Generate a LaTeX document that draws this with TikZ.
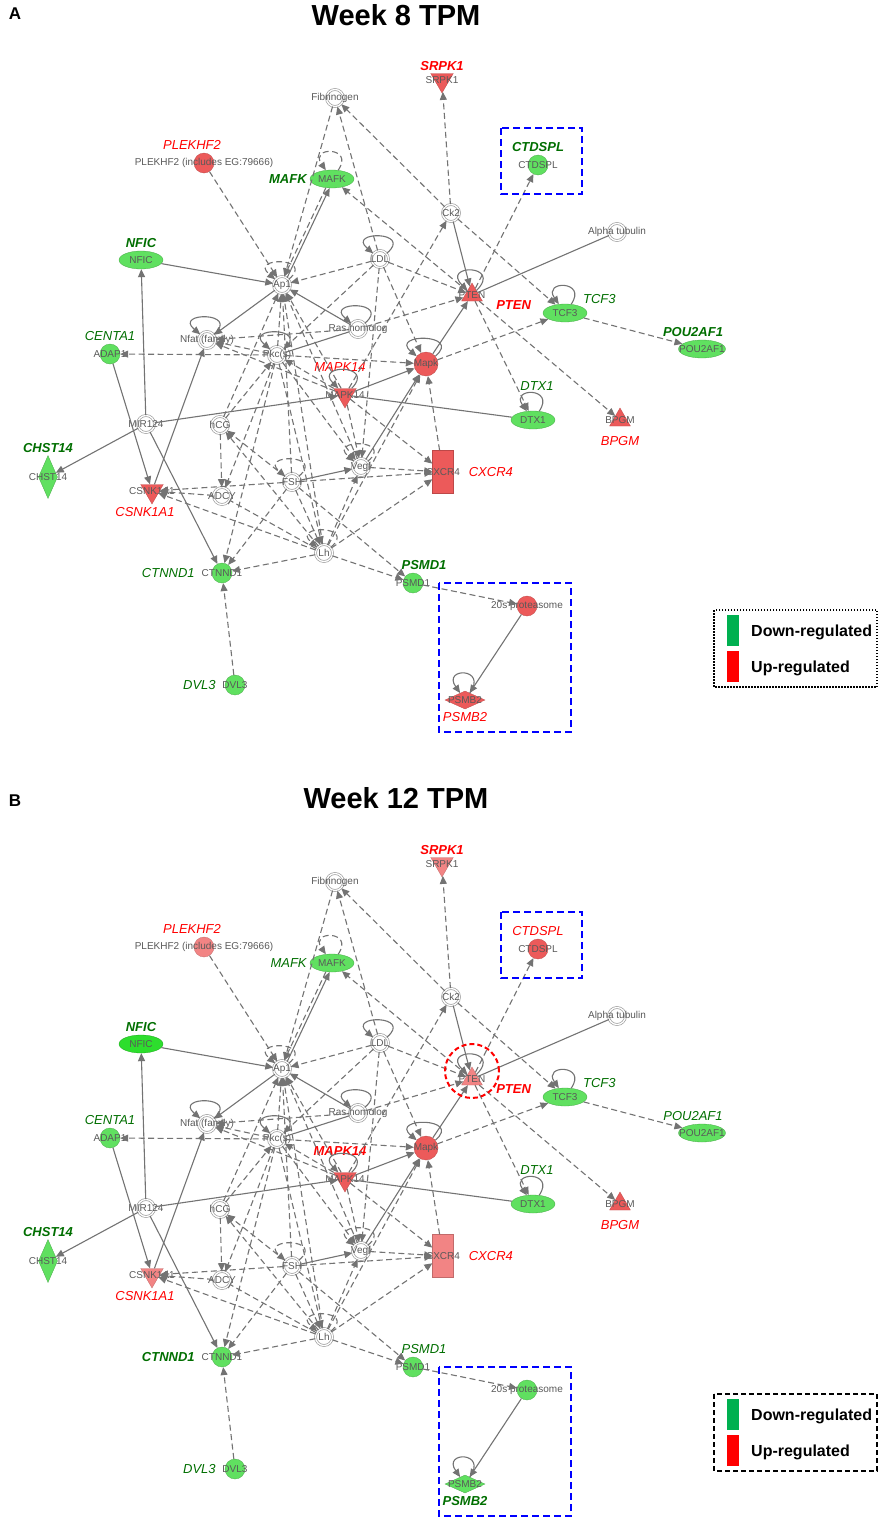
\documentclass[tikz,border=0pt]{standalone}
\usepackage{fontspec}
\setmainfont{Liberation Sans}
\usetikzlibrary{shapes.geometric,arrows.meta}

\definecolor{dngreen}{RGB}{96,224,96}
\definecolor{dngreenhi}{RGB}{45,222,45}
\definecolor{upred}{RGB}{236,90,90}
\definecolor{upredlt}{RGB}{242,132,132}
\definecolor{lblgreen}{RGB}{0,110,0}
\definecolor{lblred}{RGB}{255,0,0}
\definecolor{edgegray}{RGB}{115,115,115}
\definecolor{keygreen}{RGB}{0,176,80}

\tikzset{
	fam/.style={circle, draw=gray!75, double=white, double distance=1.3pt, line width=0.7pt, minimum size=17pt, inner sep=0pt},
	nm/.style={font=\fontsize{10}{11}\selectfont, text=black!65, inner sep=0pt},
	gcirc/.style={circle, minimum size=20pt, inner sep=0pt},
	gell/.style={ellipse, minimum width=44pt, minimum height=18pt, inner sep=0pt},
	triup/.style={regular polygon, regular polygon sides=3, minimum size=24pt, inner sep=0pt},
	tridn/.style={regular polygon, regular polygon sides=3, shape border rotate=180, minimum size=26pt, inner sep=0pt},
	dnf/.style={fill=dngreen, draw=dngreen!75!black, line width=0.3pt},
	dnhf/.style={fill=dngreenhi, draw=dngreenhi!75!black, line width=0.3pt},
	upf/.style={fill=upred, draw=upred!80!black, line width=0.3pt},
	uplf/.style={fill=upredlt, draw=upredlt!80!black, line width=0.3pt},
	lg/.style={font=\fontsize{13}{15}\selectfont\itshape, text=lblgreen, inner sep=1pt},
	lgb/.style={lg, font=\fontsize{13}{15}\selectfont\bfseries\itshape},
	lr/.style={lg, text=lblred},
	lrb/.style={lgb, text=lblred},
	act/.style={draw=edgegray, line width=1.1pt, -{Triangle[length=8pt,width=7pt]}},
	dact/.style={act, dash pattern=on 6pt off 3.5pt},
	lnk/.style={draw=edgegray, line width=1.1pt},
	dinh/.style={dact, -{Bar[width=8pt]}},
	bluebox/.style={draw=blue, line width=2.5pt, dash pattern=on 7pt off 4pt},
	keybar/.style={minimum width=12pt, minimum height=31pt, inner sep=0pt},
	keytxt/.style={font=\fontsize{16}{18}\selectfont\bfseries, anchor=west, inner sep=0pt},
	ttl/.style={font=\fontsize{29}{32}\selectfont\bfseries},
	plab/.style={font=\fontsize{17}{19}\selectfont\bfseries},
}

% one network panel, colours and label weights come from the scope
\newcommand{\drawnet}{%
	%gray families and complexes
	\node[fam, label={[nm]center:Fibrinogen}] (Fib) at (335,98) {};
	\node[fam, label={[nm]center:Ck2}] (Ck2) at (451,213) {};
	\node[fam, label={[nm]center:Alpha tubulin}] (Atub) at (617,232) {};
	\node[fam, label={[nm]center:LDL}] (LDL) at (380,259) {};
	\node[fam, label={[nm]center:Ap1}] (Ap1) at (282,285) {};
	\node[fam, label={[nm]center:Ras homolog}] (Ras) at (358,329) {};
	\node[fam, label={[nm]center:Nfat (family)}] (Nfat) at (207,340) {};
	\node[fam, label={[nm]center:Pkc(s)}] (Pkc) at (277,355) {};
	\node[fam, label={[nm]center:MIR124}] (MIR) at (146,424) {};
	\node[fam, label={[nm]center:hCG}] (hCG) at (220,425) {};
	\node[fam, label={[nm]center:FSH}] (FSH) at (292,482) {};
	\node[fam, label={[nm]center:Vegf}] (Vegf) at (361,467) {};
	\node[fam, label={[nm]center:ADCY}] (ADCY) at (222,496) {};
	\node[fam, label={[nm]center:Lh}] (Lh) at (324,553) {};
	
	%measured genes
	\node[gcirc, fPLEK, label={[nm]center:{PLEKHF2 (includes EG:79666)}}, label={[lr, xshift=-12pt]above:PLEKHF2}] (PLEK) at (204,163) {};
	\node[gell, dnf, label={[nm]center:MAFK}, label={[lMAFK]left:MAFK}] (MAFK) at (332,179) {};
	\node[gell, fNFIC, label={[nm]center:NFIC}, label={[lgb]above:NFIC}] (NFIC) at (141,260) {};
	\node[tridn, fSRPK, label={[nm]center:SRPK1}, label={[lrb]above:SRPK1}] (SRPK) at (442,80) {};
	\node[gcirc, fCTD, label={[nm]center:CTDSPL}, label={[lCTD]above:CTDSPL}] (CTD) at (538,165) {};
	\node[triup, fPTEN, label={[nm]center:PTEN}, label={[lrb, xshift=14pt, yshift=-10pt]right:PTEN}] (PTEN) at (472,295) {};
	\node[gell, dnf, label={[nm]center:TCF3}, label={[lg, xshift=7pt, yshift=-2pt]above right:TCF3}] (TCF3) at (565,313) {};
	\node[gell, dnf, minimum width=47pt, label={[nm]center:POU2AF1}, label={[lPOU, xshift=-9pt]above:POU2AF1}] (POU) at (702,349) {};
	\node[gcirc, upf, minimum size=24pt, label={[nm]center:Mapk}] (Mapk) at (426,364) {};
	\node[tridn, upf, label={[nm]center:MAPK14}, label={[lMAPK, xshift=-5pt, yshift=14pt]above:MAPK14}] (MAPK14) at (345,395) {};
	\node[gell, dnf, label={[nm]center:DTX1}, label={[lg, xshift=4pt, yshift=17pt]above:DTX1}] (DTX1) at (533,420) {};
	\node[triup, upf, label={[nm]center:BPGM}, label={[lr, yshift=-7pt]below:BPGM}] (BPGM) at (620,420) {};
	\node[gcirc, dnf, label={[nm]center:ADAP1}, label={[lg]above:CENTA1}] (ADAP) at (110,354) {};
	\node[diamond, dnf, minimum width=19pt, minimum height=43pt, inner sep=0pt, label={[nm]center:CHST14}, label={[lgb]above:CHST14}] (CHST) at (48,477) {};
	\node[tridn, fCSNK, label={[nm]center:CSNK1A1}, label={[lr, xshift=-7pt]below:CSNK1A1}] (CSNK) at (152,491) {};
	\node[rectangle, fCXCR, minimum width=21pt, minimum height=43pt, inner sep=0pt, label={[nm]center:CXCR4}, label={[lr, xshift=12pt]right:CXCR4}] (CXCR) at (443,472) {};
	\node[gcirc, dnf, label={[nm]center:PSMD1}, label={[lPSMD, xshift=11pt]above:PSMD1}] (PSMD) at (413,583) {};
	\node[gcirc, dnf, label={[nm]center:CTNND1}, label={[lCTNND, xshift=-14pt]left:CTNND1}] (CTNND) at (222,573) {};
	\node[gcirc, dnf, label={[nm]center:DVL3}, label={[lg, xshift=-6pt]left:DVL3}] (DVL3) at (235,685) {};
	\node[gcirc, f20s, label={[nm]center:20s proteasome}] (P20s) at (527,606) {};
	\node[diamond, fPSMB, minimum width=40pt, minimum height=18pt, inner sep=0pt, label={[nm]center:PSMB2}, label={[lPSMB]below:PSMB2}] (PSMB) at (465,700) {};
	
	%solid relations
	\draw[act] (NFIC) -- (Ap1);
	\draw[act] (Ap1) -- (Nfat);
	\draw[act] (Ap1.55) -- (MAFK.255);
	\draw[act] (Ras) -- (Ap1);
	\draw[act] (Ck2) -- (PTEN);
	\draw[act] (Mapk) -- (PTEN);
	\draw[act] (MAPK14) -- (Mapk);
	\draw[act] (Vegf) -- (Mapk);
	\draw[act] (FSH) -- (Vegf);
	\draw[act] (MIR) -- (NFIC);
	\draw[act] (MIR) -- (CHST);
	\draw[act] (MIR) -- (CTNND);
	\draw[act] (MIR) -- (MAPK14);
	\draw[act] (ADAP) -- (CSNK);
	\draw[act] (CSNK) -- (Nfat);
	\draw[act] (P20s) -- (PSMB);
	\draw[lnk] (Pkc) -- (Ras);
	\draw[lnk] (PTEN) -- (Atub);
	\draw[lnk] (MAPK14) -- (DTX1);
	
	%dashed relations
	\draw[dact] (PLEK) -- (Ap1);
	\draw[dact] (Fib) -- (Ap1);
	\draw[dact] (MAFK.235) -- (Ap1.75);
	\draw[dact] (LDL) -- (Fib);
	\draw[dact] (Ck2) -- (Fib);
	\draw[dact] (Ck2) -- (SRPK);
	\draw[dact] (PTEN) -- (CTD);
	\draw[dact] (PTEN) -- (MAFK);
	\draw[dact] (MAPK14) -- (Ck2);
	\draw[dact] (Ck2) -- (TCF3);
	\draw[dact] (LDL) -- (Ap1);
	\draw[dact] (LDL) -- (PTEN);
	\draw[dact] (LDL) -- (Mapk);
	\draw[dact] (LDL) -- (Vegf);
	\draw[dact] (LDL) -- (Pkc);
	\draw[dact] (Ras) -- (PTEN);
	\draw[dact] (Ras) -- (Nfat);
	\draw[dact] (Pkc) -- (Ap1);
	\draw[dact] (hCG) -- (Ap1);
	\draw[dact] (MAPK14) -- (Ap1);
	\draw[dact] (FSH) -- (Ap1);
	\draw[dact] (Lh) -- (Ap1);
	\draw[dact] (Vegf) -- (Ap1);
	\draw[dact] (PTEN) -- (DTX1);
	\draw[dact] (PTEN) -- (BPGM);
	\draw[dact] (Mapk) -- (TCF3);
	\draw[dact] (TCF3) -- (POU);
	\draw[dact] (CXCR) -- (Mapk);
	\draw[dact] (Pkc) -- (Mapk);
	\draw[dact] (Pkc) -- (ADAP);
	\draw[dact] (Pkc) -- (Nfat);
	\draw[dact] (MAPK14) -- (Nfat);
	\draw[dact] (MAPK14) -- (Pkc);
	\draw[dact] (MAPK14) -- (CXCR);
	\draw[dact] (MAPK14) -- (Vegf);
	\draw[dact] (Pkc) -- (Vegf);
	\draw[dact] (FSH) -- (CXCR);
	\draw[dact] (Vegf) -- (CXCR);
	\draw[dact] (Lh) -- (CXCR);
	\draw[dact] (FSH) -- (hCG);
	\draw[dact] (FSH) -- (CSNK);
	\draw[dact] (FSH) -- (CTNND);
	\draw[dact] (FSH) -- (Lh);
	\draw[dact] (FSH) -- (PSMD);
	\draw[dact] (Lh) -- (CTNND);
	\draw[dact] (Lh) -- (PSMD);
	\draw[dact] (Lh) -- (CSNK);
	\draw[dact] (Lh) -- (hCG);
	\draw[dact] (Lh) -- (Vegf);
	\draw[dact] (Lh) -- (Mapk);
	\draw[dact] (Pkc) -- (ADCY);
	\draw[dact] (hCG) -- (ADCY);
	\draw[dact] (ADCY) -- (CSNK);
	\draw[dinh] (Lh) -- (ADCY);
	\draw[dact] (Pkc) -- (CTNND);
	\draw[dact] (Pkc) -- (Lh);
	\draw[dact] (hCG) -- (Pkc);
	\draw[dact] (DVL3) -- (CTNND);
	\draw[dact] (PSMD) -- (P20s);
	
	%self loops
	\draw[dact] (MAFK) .. controls +(55:40pt) and +(125:40pt) .. (MAFK);
	\draw[dact] (Ap1) .. controls +(40:44pt) and +(140:44pt) .. (Ap1);
	\draw[act] (LDL) .. controls +(40:44pt) and +(140:44pt) .. (LDL);
	\draw[act] (PTEN) .. controls +(45:44pt) and +(135:44pt) .. (PTEN);
	\draw[act] (TCF3) .. controls +(55:40pt) and +(125:40pt) .. (TCF3);
	\draw[act] (Ras) .. controls +(40:44pt) and +(140:44pt) .. (Ras);
	\draw[act] (Nfat) .. controls +(40:44pt) and +(140:44pt) .. (Nfat);
	\draw[act] (Pkc) .. controls +(40:44pt) and +(140:44pt) .. (Pkc);
	\draw[act] (Mapk) .. controls +(40:48pt) and +(140:48pt) .. (Mapk);
	\draw[act] (MAPK14) .. controls +(45:44pt) and +(135:44pt) .. (MAPK14);
	\draw[act] (DTX1) .. controls +(55:40pt) and +(125:40pt) .. (DTX1);
	\draw[dact] (Vegf) .. controls +(40:44pt) and +(140:44pt) .. (Vegf);
	\draw[dact] (FSH) .. controls +(40:44pt) and +(140:44pt) .. (FSH);
	\draw[dact] (Lh) .. controls +(40:44pt) and +(140:44pt) .. (Lh);
	\draw[act] (PSMB) .. controls +(55:40pt) and +(125:40pt) .. (PSMB);
	
	%highlight boxes
	\draw[bluebox] (501,128) rectangle (582,194);
	\draw[bluebox] (439,583) rectangle (571,732);
	
	%legend
	\node[keybar, fill=keygreen] (kdn) at (733,630.5) {};
	\node[keybar, fill=red] (kup) at (733,666.5) {};
	\node[keytxt] (tdn) at (751,632) {Down-regulated};
	\node[keytxt] (tup) at (751,668) {Up-regulated};
	\draw[keybox] (714,610) rectangle (877,687);
}

\begin{document}
\begin{tikzpicture}[x=1pt, y=-1pt, label distance=2pt]
	\useasboundingbox (0,0) rectangle (879,1518);
	
	%week 8 panel
	\begin{scope}[name prefix=a-,
		fPLEK/.style=upf, fSRPK/.style=upf, fPTEN/.style=upf, fCXCR/.style=upf, fCSNK/.style=upf,
		fNFIC/.style=dnf, fCTD/.style=dnf, f20s/.style=upf, fPSMB/.style=upf,
		lMAFK/.style=lgb, lPOU/.style=lgb, lPSMD/.style=lgb, lMAPK/.style=lr,
		lCTNND/.style=lg, lCTD/.style=lgb, lPSMB/.style=lr,
		keybox/.style={draw=black, line width=1.5pt, dash pattern=on 1.5pt off 1.5pt}]
		\node[plab] (pA) at (15,14) {A};
		\node[ttl] (tA) at (396,15) {Week 8 TPM};
		\drawnet
	\end{scope}
	
	%week 12 panel
	\begin{scope}[name prefix=b-, shift={(0,784)},
		fPLEK/.style=uplf, fSRPK/.style=uplf, fPTEN/.style=uplf, fCXCR/.style=uplf, fCSNK/.style=uplf,
		fNFIC/.style=dnhf, fCTD/.style=upf, f20s/.style=dnf, fPSMB/.style=dnf,
		lMAFK/.style=lg, lPOU/.style=lg, lPSMD/.style=lg, lMAPK/.style=lrb,
		lCTNND/.style=lgb, lCTD/.style=lr, lPSMB/.style=lgb,
		keybox/.style={draw=black, line width=1.5pt, dash pattern=on 5pt off 3pt}]
		\node[plab] (pB) at (15,17) {B};
		\node[ttl] (tB) at (396,14) {Week 12 TPM};
		\drawnet
		\node[circle, draw=red, line width=2pt, dash pattern=on 5pt off 3pt, minimum size=54pt, inner sep=0pt] (ring) at (472,287) {};
	\end{scope}
\end{tikzpicture}
\end{document}
